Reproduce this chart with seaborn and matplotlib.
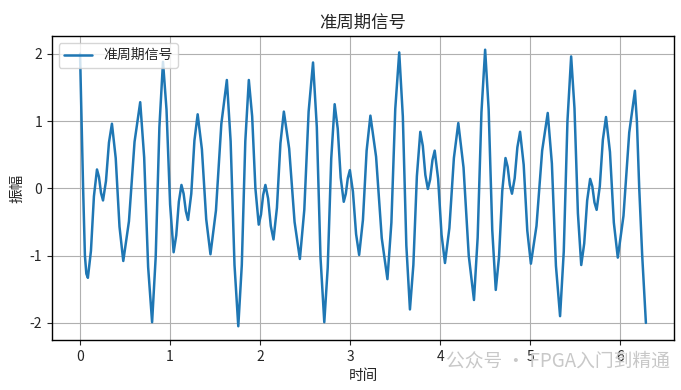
import numpy as np
import pandas as pd
import seaborn as sns
import matplotlib
matplotlib.use("Agg")
import matplotlib.pyplot as plt

# samples of the signal (peaks, troughs and slopes)
time_pts = [
    0.000, 0.017, 0.034, 0.054, 0.070, 0.087, 0.121, 0.154, 0.188, 0.210,
    0.233, 0.255, 0.288, 0.321, 0.354, 0.396, 0.438, 0.480, 0.543, 0.605,
    0.668, 0.712, 0.756, 0.800, 0.840, 0.881, 0.921, 0.960, 1.000, 1.039,
    1.068, 1.097, 1.126, 1.150, 1.175, 1.199, 1.235, 1.270, 1.306, 1.353,
    1.401, 1.448, 1.509, 1.569, 1.630, 1.672, 1.715, 1.757, 1.796, 1.835,
    1.874, 1.911, 1.947, 1.984, 2.009, 2.033, 2.058, 2.088, 2.118, 2.148,
    2.186, 2.225, 2.263, 2.322, 2.382, 2.441, 2.490, 2.538, 2.587, 2.629,
    2.670, 2.712, 2.750, 2.789, 2.827, 2.861, 2.894, 2.928, 2.951, 2.973,
    2.996, 3.030, 3.065, 3.099, 3.141, 3.182, 3.224, 3.287, 3.350, 3.413,
    3.457, 3.500, 3.544, 3.584, 3.623, 3.663, 3.701, 3.740, 3.778, 3.806,
    3.834, 3.862, 3.887, 3.913, 3.938, 3.976, 4.014, 4.052, 4.101, 4.151,
    4.200, 4.258, 4.316, 4.374, 4.415, 4.457, 4.498, 4.537, 4.577, 4.616,
    4.652, 4.688, 4.724, 4.748, 4.772, 4.796, 4.826, 4.856, 4.886, 4.926,
    4.966, 5.006, 5.068, 5.131, 5.193, 5.239, 5.284, 5.330, 5.371, 5.412,
    5.453, 5.490, 5.528, 5.565, 5.598, 5.631, 5.664, 5.688, 5.712, 5.736,
    5.771, 5.805, 5.840, 5.884, 5.927, 5.971, 6.034, 6.098, 6.161, 6.183,
    6.209, 6.242, 6.283,
]
amp_pts = [
    2.00, 1.00, 0.00, -1.00, -1.27, -1.33, -0.93, -0.12, 0.28, 0.17,
    -0.07, -0.18, 0.11, 0.68, 0.96, 0.45, -0.57, -1.08, -0.49, 0.69,
    1.28, 0.46, -1.17, -1.99, -1.02, 0.91, 1.88, 1.17, -0.24, -0.95,
    -0.70, -0.20, 0.05, -0.08, -0.34, -0.47, -0.08, 0.71, 1.10, 0.58,
    -0.46, -0.98, -0.33, 0.96, 1.61, 0.70, -1.14, -2.05, -1.14, 0.70,
    1.61, 1.07, 0.00, -0.54, -0.39, -0.10, 0.05, -0.15, -0.56, -0.76,
    -0.29, 0.67, 1.14, 0.59, -0.50, -1.05, -0.32, 1.14, 1.87, 0.91,
    -1.03, -1.99, -1.18, 0.44, 1.25, 0.89, 0.16, -0.20, -0.08, 0.15,
    0.27, -0.05, -0.68, -0.99, -0.47, 0.56, 1.08, 0.47, -0.74, -1.35,
    -0.51, 1.18, 2.02, 1.07, -0.85, -1.80, -1.14, 0.18, 0.84, 0.63,
    0.20, -0.01, 0.13, 0.42, 0.56, 0.14, -0.69, -1.11, -0.59, 0.45,
    0.97, 0.31, -1.00, -1.66, -0.73, 1.13, 2.06, 1.17, -0.62, -1.51,
    -1.02, -0.04, 0.45, 0.32, 0.05, -0.08, 0.15, 0.61, 0.84, 0.35,
    -0.63, -1.12, -0.56, 0.56, 1.12, 0.37, -1.15, -1.90, -0.94, 1.00,
    1.96, 1.19, -0.37, -1.14, -0.82, -0.18, 0.14, 0.03, -0.21, -0.32,
    0.03, 0.72, 1.06, 0.54, -0.51, -1.03, -0.41, 0.83, 1.45, 1.00,
    0.00, -1.00, -2.00,
]

title = "准周期信号"
xlab = "时间"
ylab = "振幅"

sns.set_style("ticks")
plt.rcParams["font.family"] = ["Noto Sans CJK SC", "DejaVu Sans"]
plt.rcParams["axes.unicode_minus"] = False

df = pd.DataFrame({"t": time_pts, "y": amp_pts})

fig = plt.figure(figsize=(6.81, 3.90), dpi=100)
ax = fig.add_axes([0.076, 0.128, 0.914, 0.78])
sns.lineplot(data=df, x="t", y="y", ax=ax, color="#1f77b4", linewidth=1.8,
             label=title, sort=False)

ax.set_title(title, fontsize=12.5)
ax.set_xlabel(xlab, fontsize=10.5)
ax.set_ylabel(ylab, fontsize=10.5)
ax.grid(True, color="#b0b0b0", linewidth=0.8)
for s in ax.spines.values():
    s.set_color("black")
    s.set_linewidth(1.0)
ax.tick_params(labelsize=10, length=3.5)
ax.legend(loc="upper left", fontsize=10)

# platform watermark seen in the reference image
fig.text(0.655, 0.06, "公众号 · FPGA入门到精通", fontsize=13.5, color="#c8c8c8")

fig.savefig("out.png", dpi=100)
